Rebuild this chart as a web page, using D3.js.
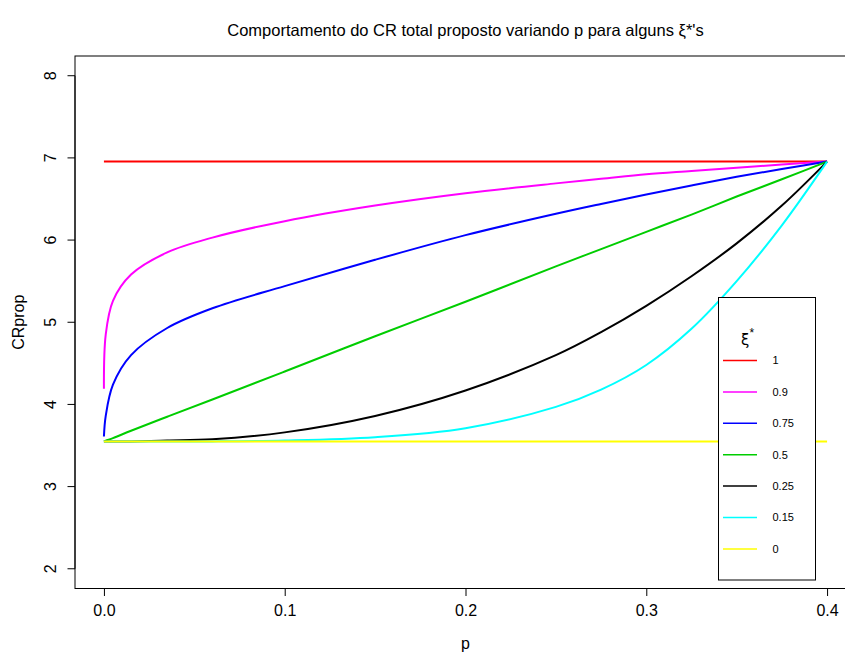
<!DOCTYPE html>
<html>
<head>
<meta charset="utf-8">
<script src="https://cdn.jsdelivr.net/npm/d3@7"></script>
<style>
  body { margin: 0; background: #fff; }
  text { font-family: "Liberation Sans", Arial, sans-serif; fill: #000; }
</style>
</head>
<body>
<svg id="chart" width="845" height="653"></svg>
<script>
// p values at which the curves were read
const pValues = [0, 0.001, 0.005, 0.015, 0.035, 0.06, 0.1, 0.15, 0.2, 0.25, 0.275, 0.3, 0.325, 0.35, 0.375, 0.4];

// CRprop for each xi*
const cr1    = [6.955, 6.955, 6.955, 6.955, 6.955, 6.955, 6.955, 6.955, 6.955, 6.955, 6.955, 6.955, 6.955, 6.955, 6.955, 6.955];
const cr090  = [4.19, 4.85, 5.26, 5.58, 5.85, 6.03, 6.23, 6.42, 6.57, 6.69, 6.745, 6.80, 6.84, 6.88, 6.92, 6.955];
const cr075  = [3.61, 3.86, 4.24, 4.60, 4.93, 5.17, 5.44, 5.76, 6.06, 6.32, 6.44, 6.555, 6.665, 6.77, 6.865, 6.955];
const cr050  = [3.55, 3.56, 3.59, 3.68, 3.85, 4.06, 4.40, 4.83, 5.25, 5.68, 5.89, 6.10, 6.31, 6.53, 6.74, 6.955];
const cr025  = [3.55, 3.55, 3.55, 3.55, 3.56, 3.575, 3.66, 3.86, 4.17, 4.60, 4.88, 5.20, 5.56, 5.96, 6.42, 6.955];
const cr015  = [3.55, 3.55, 3.55, 3.55, 3.55, 3.55, 3.56, 3.60, 3.71, 3.97, 4.18, 4.48, 4.92, 5.50, 6.18, 6.955];
const cr0    = [3.55, 3.55, 3.55, 3.55, 3.55, 3.55, 3.55, 3.55, 3.55, 3.55, 3.55, 3.55, 3.55, 3.55, 3.55, 3.55];

const seriesNames  = ["1", "0.9", "0.75", "0.5", "0.25", "0.15", "0"];
const seriesValues = [cr1, cr090, cr075, cr050, cr025, cr015, cr0];
const seriesColors = ["#ff0000", "#ff00ff", "#0000ff", "#00cd00", "#000000", "#00ffff", "#ffff00"];

const xTicks = [0, 0.1, 0.2, 0.3, 0.4];
const yTicks = [2, 3, 4, 5, 6, 7, 8];

const svg = d3.select("#chart");
const plotLeft = 75, plotRight = 856, plotTop = 56, plotBottom = 588.5;

const x = d3.scaleLinear().domain([-0.016, 0.416]).range([plotLeft, plotRight]);
const y = d3.scaleLinear().domain([1.76, 8.24]).range([plotBottom, plotTop]);

// plot box
svg.append("rect")
    .attr("x", plotLeft).attr("y", plotTop)
    .attr("width", plotRight - plotLeft).attr("height", plotBottom - plotTop)
    .attr("fill", "none").attr("stroke", "#000").attr("stroke-width", 1);

// axes
const xAxis = svg.append("g")
    .attr("transform", `translate(0,${plotBottom})`)
    .call(d3.axisBottom(x).tickValues(xTicks).tickFormat(d3.format(".1f")).tickSize(7.5).tickPadding(6));
xAxis.selectAll("text").style("font-size", "16px").attr("dy", "0.9em");

const yAxis = svg.append("g")
    .attr("transform", `translate(${plotLeft},0)`)
    .call(d3.axisLeft(y).tickValues(yTicks).tickFormat(d3.format("d")).tickSize(7.5));
yAxis.selectAll(".tick").attr("transform", null);
yAxis.selectAll(".tick line").attr("transform", d => `translate(0,${y(d)})`);
yAxis.selectAll("text")
    .style("font-size", "16px")
    .attr("text-anchor", "middle")
    .attr("x", 0).attr("y", 0).attr("dy", 0)
    .attr("transform", d => `translate(-25,${y(d)}) rotate(-90)`)
    .attr("dominant-baseline", "central");
// axis lines only across the tick range, like R
xAxis.select(".domain").attr("d", `M${x(0)},0H${x(0.4)}`);
yAxis.select(".domain").attr("d", `M0,${y(2)}V${y(8)}`);
svg.selectAll(".domain, .tick line").attr("stroke", "#000");

// labels
svg.append("text").attr("x", (plotLeft + plotRight) / 2).attr("y", 649)
    .attr("text-anchor", "middle").style("font-size", "16px").text("p");
svg.append("text")
    .attr("transform", `translate(24,${(plotTop + plotBottom) / 2}) rotate(-90)`)
    .attr("text-anchor", "middle").style("font-size", "16px").text("CRprop");
svg.append("text").attr("x", (plotLeft + plotRight) / 2).attr("y", 36)
    .attr("text-anchor", "middle").style("font-size", "16.5px")
    .text("Comportamento do CR total proposto variando p para alguns ξ*'s");

// curves
const line = d3.line()
    .x((d, i) => x(pValues[i]))
    .y(d => y(d))
    .curve(d3.curveCatmullRom.alpha(0.5));

svg.append("g").selectAll("path")
    .data(seriesValues)
    .join("path")
    .attr("d", d => line(d))
    .attr("fill", "none")
    .attr("stroke", (d, i) => seriesColors[i])
    .attr("stroke-width", 2);

// legend
const lg = svg.append("g");
lg.append("rect")
    .attr("x", 718.5).attr("y", 297.5).attr("width", 97).attr("height", 282.5)
    .attr("fill", "#fff").attr("stroke", "#000").attr("stroke-width", 1);
const lt = lg.append("text").attr("x", 741).attr("y", 345).style("font-size", "17px");
lt.append("tspan").style("font-family", "'DejaVu Sans'").style("font-size", "15px").text("ξ");
lt.append("tspan").attr("dy", -8).style("font-size", "12px").text("*");

const items = lg.selectAll("g.item")
    .data(seriesNames)
    .join("g")
    .attr("class", "item")
    .attr("transform", (d, i) => `translate(0,${360.5 + i * 31.4})`);
items.append("line")
    .attr("x1", 723).attr("x2", 757)
    .attr("stroke", (d, i) => seriesColors[i]).attr("stroke-width", 1.5);
items.append("text")
    .attr("x", 772.5).attr("dy", "0.35em")
    .style("font-size", "11px").text(d => d);
</script>
</body>
</html>
